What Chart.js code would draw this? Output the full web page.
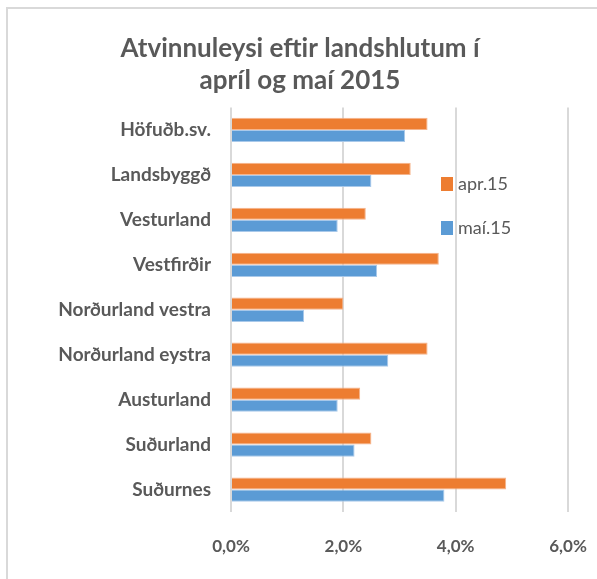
<!DOCTYPE html>
<html>
<head>
<meta charset="utf-8">
<script src="https://cdn.jsdelivr.net/npm/chart.js@4/dist/chart.umd.min.js"></script>
<style>
	html, body { margin: 0; padding: 0; background: #fff; }
	#wrap { position: relative; width: 597px; height: 579px; overflow: hidden; }
	#frame { position: absolute; left: 6px; top: 7px; width: 700px; height: 700px;
		border-left: 2px solid #d9d9d9; border-top: 2px solid #d9d9d9; box-sizing: border-box; }
	#myChart { position: absolute; left: 0; top: 0; }
	#legend { position: absolute; left: 441px; top: 172px; font-family: Lato, "Open Sans", sans-serif;
		font-size: 18px; color: #595959; }
	#legend .item { height: 25px; margin-bottom: 19px; white-space: nowrap; }
	#legend .box { display: inline-block; width: 12px; height: 14px; vertical-align: -1px; margin-right: 5px; }
</style>
</head>
<body>
<div id="wrap">
	<div id="frame"></div>
	<canvas id="myChart" width="597" height="579"></canvas>
	<div id="legend"></div>
</div>
<script>
var _labels = ['Höfuðb.sv.', 'Landsbyggð', 'Vesturland', 'Vestfirðir', 'Norðurland vestra',
	'Norðurland eystra', 'Austurland', 'Suðurland', 'Suðurnes'];
var _seriesNames = ['apr.15', 'maí.15'];
var _aprData = [3.5, 3.2, 2.4, 3.7, 2.0, 3.5, 2.3, 2.5, 4.9];
var _maiData = [3.1, 2.5, 1.9, 2.6, 1.3, 2.8, 1.9, 2.2, 3.8];
var _xTicks = [0, 2, 4, 6];
var _colors = ['#ed7d31', '#5b9bd5'];
var _titleLines = ['Atvinnuleysi eftir landshlutum í', 'apríl og maí 2015'];

var FONT = 'Lato, "Open Sans", sans-serif';
var TEXT_COLOR = '#595959';

function _setLegend() {
	var html = '';
	_seriesNames.forEach(function(name, i) {
		html += '<div class="item"><span class="box" style="background:' + _colors[i] + '"></span>' + name + '</div>';
	});
	document.getElementById('legend').innerHTML = html;
}

var _config = {
	type: 'bar',
	data: {
		labels: _labels,
		datasets: [{
			label: _seriesNames[0],
			data: _aprData,
			backgroundColor: _colors[0],
			borderColor: '#f5b48c',
			borderWidth: 1,
			barPercentage: 1.0,
			categoryPercentage: 0.54
		}, {
			label: _seriesNames[1],
			data: _maiData,
			backgroundColor: _colors[1],
			borderColor: '#a9c9ea',
			borderWidth: 1,
			barPercentage: 1.0,
			categoryPercentage: 0.54
		}]
	},
	options: {
		indexAxis: 'y',
		responsive: false,
		animation: false,
		layout: {
			padding: { top: 32, left: 32, right: 29, bottom: 10 }
		},
		plugins: {
			legend: { display: false },
			tooltip: { enabled: false },
			title: {
				display: true,
				text: _titleLines,
				color: TEXT_COLOR,
				font: { family: FONT, size: 26, weight: 'bold', lineHeight: 1.24 },
				padding: { top: 0, bottom: 11 }
			}
		},
		scales: {
			x: {
				min: 0,
				max: 6,
				afterBuildTicks: function(scale) {
					scale.ticks = _xTicks.map(function(v) { return { value: v }; });
				},
				afterFit: function(scale) {
					scale.height = 57;
					scale.paddingLeft = 0;
					scale.paddingRight = 0;
				},
				grid: {
					color: '#d9d9d9',
					lineWidth: 2,
					drawTicks: false
				},
				border: { display: false },
				ticks: {
					padding: 24,
					color: TEXT_COLOR,
					font: { family: FONT, size: 17, weight: 'bold' },
					callback: function(value) {
						return value.toFixed(1).replace('.', ',') + '%';
					}
				}
			},
			y: {
				afterFit: function(scale) {
					scale.width = 199;
				},
				grid: { display: false },
				border: { display: false },
				ticks: {
					padding: 12,
					color: TEXT_COLOR,
					font: { family: FONT, size: 19, weight: 'bold' }
				}
			}
		}
	}
};

var myChart;
function createChart(id) {
	var ctx = document.getElementById(id);
	myChart = new Chart(ctx, _config);
}

_setLegend();
createChart('myChart');
</script>
</body>
</html>
